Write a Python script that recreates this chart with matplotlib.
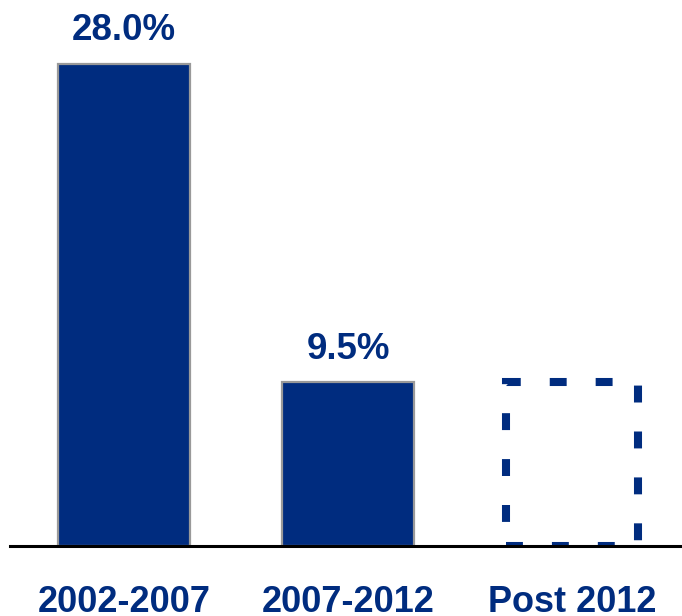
import matplotlib.pyplot as plt

categories = ['2002-2007', '2007-2012', 'Post 2012']
values = [28.0, 9.5]
value_labels = ['28.0%', '9.5%']
placeholder_value = 9.5

navy = '#002C7F'

plt.rcParams['font.family'] = ['Liberation Sans', 'DejaVu Sans']

fig = plt.figure(figsize=(6.82, 6.16), dpi=100)
ax = fig.add_axes([10 / 682, 70 / 616, 672 / 682, 546 / 616])

x = list(range(len(categories)))
bars = ax.bar(x[:2], values, width=0.59, color=navy, edgecolor='#999999', linewidth=1.6)
ax.bar(x[2], placeholder_value, width=0.59, fill=False, edgecolor=navy,
       linewidth=5.8, linestyle=(0, (2.1, 3.6)))

for b, lab in zip(bars, value_labels):
    ax.annotate(lab, (b.get_x() + b.get_width() / 2, b.get_height()),
                xytext=(0, 17), textcoords='offset points', ha='center', va='baseline',
                fontsize=26.5, fontweight='bold', color=navy)

ax.set_xlim(-0.51, 2.49)
ax.set_ylim(0, 31.7)
ax.set_xticks(x)
ax.set_xticklabels(categories, fontsize=26, fontweight='bold', color=navy)
ax.tick_params(axis='x', length=0, pad=28)
ax.set_yticks([])
for s in ['top', 'right', 'left']:
    ax.spines[s].set_visible(False)
ax.spines['bottom'].set_linewidth(2.2)
ax.spines['bottom'].set_color('black')

fig.savefig('out.png', dpi=100)
